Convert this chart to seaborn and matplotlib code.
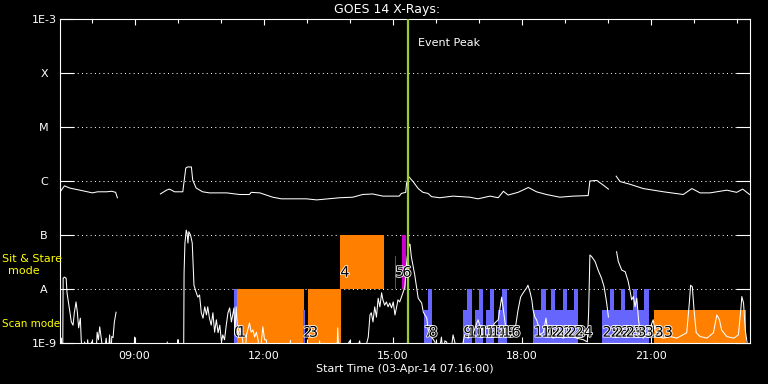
import numpy as np
import pandas as pd
import matplotlib
matplotlib.use("Agg")
import matplotlib.pyplot as plt
import matplotlib.patheffects as pe
from matplotlib.ticker import FixedLocator, NullLocator
import seaborn as sns

# ---------------- data ----------------
# GOES long channel (1-8 A): time (decimal hours, 03-Apr-14) and log10 flux (W/m^2)
long_t1 = [7.27, 7.37, 7.49, 7.79, 8.02, 8.14, 8.35, 8.47, 8.56, 8.60]
long_l1 = [-6.20, -6.09, -6.13, -6.18, -6.22, -6.20, -6.20, -6.19, -6.21, -6.31]
long_t2 = [9.60, 9.74, 9.81, 9.93, 10.12, 10.19, 10.23, 10.32, 10.35, 10.43, 10.58, 10.74,
           11.14, 11.44, 11.67, 11.71, 11.91, 12.21, 12.41, 12.99, 13.23, 13.77, 14.07,
           14.30, 14.53, 14.77, 15.15, 15.20, 15.30, 15.32, 15.37, 15.47, 15.59, 15.70,
           15.82, 15.90, 16.09, 16.40, 16.79, 16.98, 17.26, 17.45, 17.57, 17.68, 17.91,
           18.15, 18.34, 18.57, 18.88, 19.19, 19.54, 19.58, 19.74, 19.88, 20.01]
long_l2 = [-6.24, -6.17, -6.15, -6.20, -6.20, -5.76, -5.74, -5.74, -5.98, -6.13, -6.20, -6.22,
           -6.22, -6.25, -6.25, -6.21, -6.22, -6.30, -6.33, -6.33, -6.35, -6.31, -6.30,
           -6.25, -6.24, -6.28, -6.28, -6.23, -6.21, -6.04, -5.92, -6.01, -6.14, -6.21,
           -6.23, -6.29, -6.31, -6.28, -6.30, -6.33, -6.28, -6.31, -6.19, -6.26, -6.21,
           -6.12, -6.20, -6.25, -6.30, -6.28, -6.27, -6.00, -5.99, -6.07, -6.15]
long_t3 = [20.19, 20.28, 20.51, 20.82, 21.29, 21.75, 21.95, 22.14, 22.37, 22.76, 22.99, 23.13, 23.29]
long_l3 = [-5.91, -6.01, -6.06, -6.14, -6.20, -6.25, -6.14, -6.22, -6.22, -6.17, -6.21, -6.15, -6.25]

# GOES short channel (0.5-4 A)
short_t1 = [7.27, 7.30, 7.31, 7.33, 7.34, 7.37, 7.41, 7.43, 7.49, 7.53, 7.57, 7.60, 7.64, 7.67,
            7.70, 7.74, 7.76, 7.80, 7.84, 7.88, 7.91, 7.95, 8.00, 8.05, 8.10, 8.13, 8.16, 8.19,
            8.23, 8.28, 8.34, 8.38, 8.42, 8.45, 8.47, 8.50, 8.53, 8.57]
short_l1 = [-9.3, -8.91, -9.3, -9.3, -7.80, -7.78, -7.80, -8.07, -8.39, -8.61, -8.67, -8.44, -8.24, -8.43,
            -8.72, -8.54, -8.94, -9.3, -8.98, -9.3, -8.94, -9.3, -8.98, -9.3, -9.3, -8.80, -8.94, -8.70,
            -8.94, -9.3, -8.91, -9.3, -8.85, -9.3, -8.88, -8.90, -8.61, -8.43]
short_t2 = [8.98, 9.00, 9.02, 9.74, 9.76, 9.78, 9.98, 10.00, 10.02, 10.14, 10.15, 10.17, 10.20,
            10.22, 10.24, 10.26, 10.30, 10.34, 10.38, 10.43, 10.47, 10.51, 10.55, 10.59, 10.63,
            10.67, 10.70, 10.74, 10.78, 10.82, 10.86, 10.90, 10.94, 10.98, 11.02, 11.05, 11.09,
            11.13, 11.17, 11.21, 11.25, 11.29, 11.31, 11.33, 11.36, 11.40, 11.45, 11.51, 11.56,
            11.60, 11.67, 11.71, 11.75, 11.79, 11.83, 11.87, 11.91, 11.95, 11.98, 12.02, 12.06,
            12.10, 12.60, 12.62, 12.64, 13.28, 13.30, 13.32, 13.70, 13.72, 13.75, 14.00, 14.10,
            14.23, 14.30, 14.43, 14.47, 14.50, 14.54, 14.58, 14.62, 14.66, 14.70, 14.74, 14.77,
            14.81, 14.85, 14.89, 14.93, 14.97, 15.01, 15.05, 15.09, 15.12, 15.16, 15.20, 15.24,
            15.28, 15.30, 15.33, 15.38, 15.40, 15.43, 15.51, 15.59, 15.67, 15.71, 15.79, 15.82,
            15.90, 15.98, 16.05, 16.13, 16.18, 16.21, 16.25, 16.33, 16.40, 16.44, 16.55, 16.67,
            16.75, 16.87, 16.98, 17.06, 17.14, 17.26, 17.37, 17.45, 17.53, 17.57, 17.60, 17.64,
            17.72, 17.84, 17.91, 17.97, 18.03, 18.11, 18.14, 18.19, 18.23, 18.26, 18.30, 18.34,
            18.38, 18.42, 18.50, 18.56, 18.61, 18.73, 18.84, 18.96, 19.08, 19.27, 19.43, 19.52,
            19.55, 19.58, 19.62, 19.70, 19.77, 19.85, 19.91, 19.97, 20.01]
short_l2 = [-9.3, -8.89, -9.3, -9.3, -8.98, -9.3, -9.3, -8.94, -9.3, -9.3, -7.70, -7.15, -6.91,
            -6.97, -7.15, -6.94, -7.00, -7.15, -7.93, -8.06, -8.15, -8.11, -8.44, -8.54, -8.33,
            -8.48, -8.33, -8.54, -8.67, -8.44, -8.80, -8.57, -8.81, -8.67, -8.98, -8.85, -8.94,
            -8.67, -8.44, -8.35, -8.61, -8.43, -8.35, -8.85, -8.33, -8.85, -8.72, -8.94, -9.3,
            -8.85, -8.63, -8.80, -8.76, -8.89, -8.80, -8.94, -9.3, -8.94, -8.70, -8.94, -8.94,
            -9.3, -9.3, -8.95, -9.3, -9.3, -8.96, -9.3, -9.3, -8.72, -9.3, -8.96, -9.3,
            -8.96, -9.3, -8.89, -8.48, -8.44, -8.61, -8.33, -8.52, -8.17, -8.33, -8.07, -8.20,
            -8.30, -8.24, -8.33, -8.26, -8.35, -8.24, -8.48, -8.33, -8.20, -8.24, -8.15, -8.06,
            -7.96, -7.74, -7.43, -7.17, -7.17, -7.40, -7.74, -8.17, -8.26, -8.43, -8.54, -8.76,
            -8.89, -8.98, -9.3, -8.89, -9.3, -8.96, -8.98, -9.3, -8.85, -8.98, -9.3, -8.85,
            -8.91, -8.81, -8.57, -8.76, -8.70, -8.76, -8.63, -8.57, -8.15, -8.39, -8.57, -8.81,
            -8.89, -8.76, -8.39, -8.15, -8.07, -7.98, -7.93, -8.06, -8.20, -8.39, -8.52, -8.57,
            -8.67, -8.85, -8.80, -8.54, -8.85, -8.91, -8.85, -8.91, -8.85, -8.91, -8.94, -8.98,
            -8.44, -7.37, -7.40, -7.49, -7.65, -7.80, -7.96, -8.26, -8.52]
short_t3 = [20.20, 20.24, 20.32, 20.40, 20.47, 20.51, 20.55, 20.59, 20.63, 20.67, 20.71, 20.74,
            20.82, 20.94, 21.05, 21.09, 21.17, 21.29, 21.44, 21.60, 21.83, 21.89, 21.92, 21.96,
            22.00, 22.05, 22.14, 22.30, 22.45, 22.53, 22.59, 22.64, 22.76, 22.92, 23.03, 23.09,
            23.11, 23.15, 23.19, 23.23, 23.28]
short_l3 = [-7.31, -7.49, -7.65, -7.68, -7.86, -8.02, -8.20, -8.14, -8.33, -8.17, -8.57, -8.76,
            -8.91, -8.81, -8.57, -8.76, -8.88, -8.91, -8.88, -8.91, -8.81, -8.26, -7.93, -7.96,
            -8.39, -8.81, -8.88, -8.91, -8.81, -8.48, -8.57, -8.76, -8.88, -8.91, -8.85, -8.35,
            -8.14, -8.26, -8.76, -8.98, -9.3]

# observation windows (numbered 0..33)
bar_labels = [str(i) for i in range(34)]
bar_start = [11.30, 11.37, 12.91, 13.04, 13.77, 15.05, 15.21, 15.72, 15.82, 16.63, 16.72, 16.91,
             17.00, 17.16, 17.26, 17.44, 17.53, 18.26, 18.44, 18.56, 18.67, 18.77, 18.95, 19.05,
             19.21, 19.86, 20.05, 20.14, 20.30, 20.40, 20.58, 20.67, 20.84, 21.07]
bar_end = [11.37, 12.93, 12.97, 13.79, 14.79, 15.07, 15.30, 15.82, 15.92, 16.72, 16.84, 17.00,
           17.09, 17.26, 17.36, 17.53, 17.65, 18.44, 18.56, 18.67, 18.77, 18.95, 19.05, 19.21,
           19.30, 20.05, 20.14, 20.30, 20.40, 20.58, 20.67, 20.84, 20.95, 23.20]
bar_low = [1e-9, 1e-9, 1e-9, 1e-9, 1e-8, 1e-8, 1e-8] + [1e-9] * 26 + [1e-9]
bar_high = [1e-8, 1e-8, 4.1e-9, 1e-8, 1e-7, 4.1e-8, 1e-7] + [4.1e-9, 1e-8] * 13 + [4.1e-9]
bar_kind = ["scan", "orange", "scan", "orange", "orange", "sit", "sit"] + ["scan"] * 26 + ["orange"]

event_peak = 15.35
y_ticks = [1e-9, 1e-8, 1e-7, 1e-6, 1e-5, 1e-4, 1e-3]
y_ticklabels = ["1E-9", "A", "B", "C", "M", "X", "1E-3"]
x_major = [9, 12, 15, 18, 21]
x_major_labels = ["09:00", "12:00", "15:00", "18:00", "21:00"]
x_minor = list(range(8, 24))

# ---------------- build frames ----------------
rows = []
for seg, (t, l) in enumerate([(long_t1, long_l1), (long_t2, long_l2), (long_t3, long_l3),
                              (short_t1, short_l1), (short_t2, short_l2), (short_t3, short_l3)]):
    for ti, li in zip(t, l):
        rows.append({"hour": ti, "flux": 10.0 ** li, "seg": seg})
df = pd.DataFrame(rows)

kind_color = {"scan": "#6666FF", "orange": "#FF8000", "sit": "#CC00CC"}

# ---------------- figure ----------------
plt.rcParams["font.family"] = ["DejaVu Sans"]
fig = plt.figure(figsize=(7.68, 3.84), dpi=100, facecolor="black")
ax = fig.add_axes([60 / 768, 41 / 384, 690 / 768, 324 / 384])
ax.set_facecolor("black")
ax.set_yscale("log")

# bars
starts = np.array(bar_start)
widths = np.array(bar_end) - starts
lows = np.array(bar_low)
highs = np.array(bar_high)
ax.bar(starts, highs - lows, width=widths, bottom=lows, align="edge",
       color=[kind_color[k] for k in bar_kind], linewidth=0, zorder=2)

for lab, s, lo in zip(bar_labels, bar_start, bar_low):
    yl = 10 ** -8.80 if lo < 5e-9 else 10 ** -7.69
    ax.text(s + 0.01, yl, lab, color="black", fontsize=10.5, ha="left", va="center", zorder=6,
            path_effects=[pe.withStroke(linewidth=1.2, foreground="white")])

sns.lineplot(data=df, x="hour", y="flux", units="seg", estimator=None, sort=False,
             color="white", linewidth=0.75, ax=ax, zorder=4, legend=False)

ax.axvline(event_peak, color="#9ACD32", linewidth=1.6, zorder=5)
ax.text(event_peak + 0.23, 10 ** -3.44, "Event Peak", color="white", fontsize=8,
        ha="left", va="center")

ax.set_xlim(7.267, 23.30)
ax.set_ylim(1e-9, 1e-3)

ax.yaxis.set_major_locator(FixedLocator(y_ticks))
ax.yaxis.set_minor_locator(NullLocator())
ax.set_yticklabels(y_ticklabels)
ax.xaxis.set_major_locator(FixedLocator(x_major))
ax.xaxis.set_minor_locator(FixedLocator(x_minor))
ax.set_xticklabels(x_major_labels)

ax.grid(axis="y", which="major", color="white", linewidth=0.72, linestyle=(0, (1, 3.3)), zorder=1)
ax.grid(axis="x", visible=False)
ax.set_axisbelow(True)

ax.tick_params(axis="y", which="major", direction="in", length=10, width=0.8, colors="white",
               left=True, right=True, labelsize=8, pad=11.5)
ax.tick_params(axis="x", which="major", direction="in", length=4.5, width=0.8, colors="white",
               top=True, bottom=True, labelsize=8, pad=6)
ax.tick_params(axis="x", which="minor", direction="in", length=2.8, width=0.8, colors="white",
               top=True, bottom=True)
for t in ax.get_yticklabels():
    t.set_ha("center")
for sp in ax.spines.values():
    sp.set_color("white")
    sp.set_linewidth(0.8)
ax.set_xlabel("")
ax.set_ylabel("")

fig.text(387 / 768, 1 - 9.5 / 384, "GOES 14 X-Rays:", color="white", fontsize=9,
         ha="center", va="center")
fig.text(405 / 768, 1 - 369 / 384, "Start Time (03-Apr-14 07:16:00)", color="white",
         fontsize=8, ha="center", va="center")
fig.text(2 / 768, 1 - 259 / 384, "Sit & Stare", color="yellow", fontsize=8, ha="left", va="center")
fig.text(24 / 768, 1 - 271 / 384, "mode", color="yellow", fontsize=8, ha="center", va="center")
fig.text(2 / 768, 1 - 324 / 384, "Scan mode", color="yellow", fontsize=7.5, ha="left", va="center")

fig.savefig("out.png", dpi=100, facecolor="black")
